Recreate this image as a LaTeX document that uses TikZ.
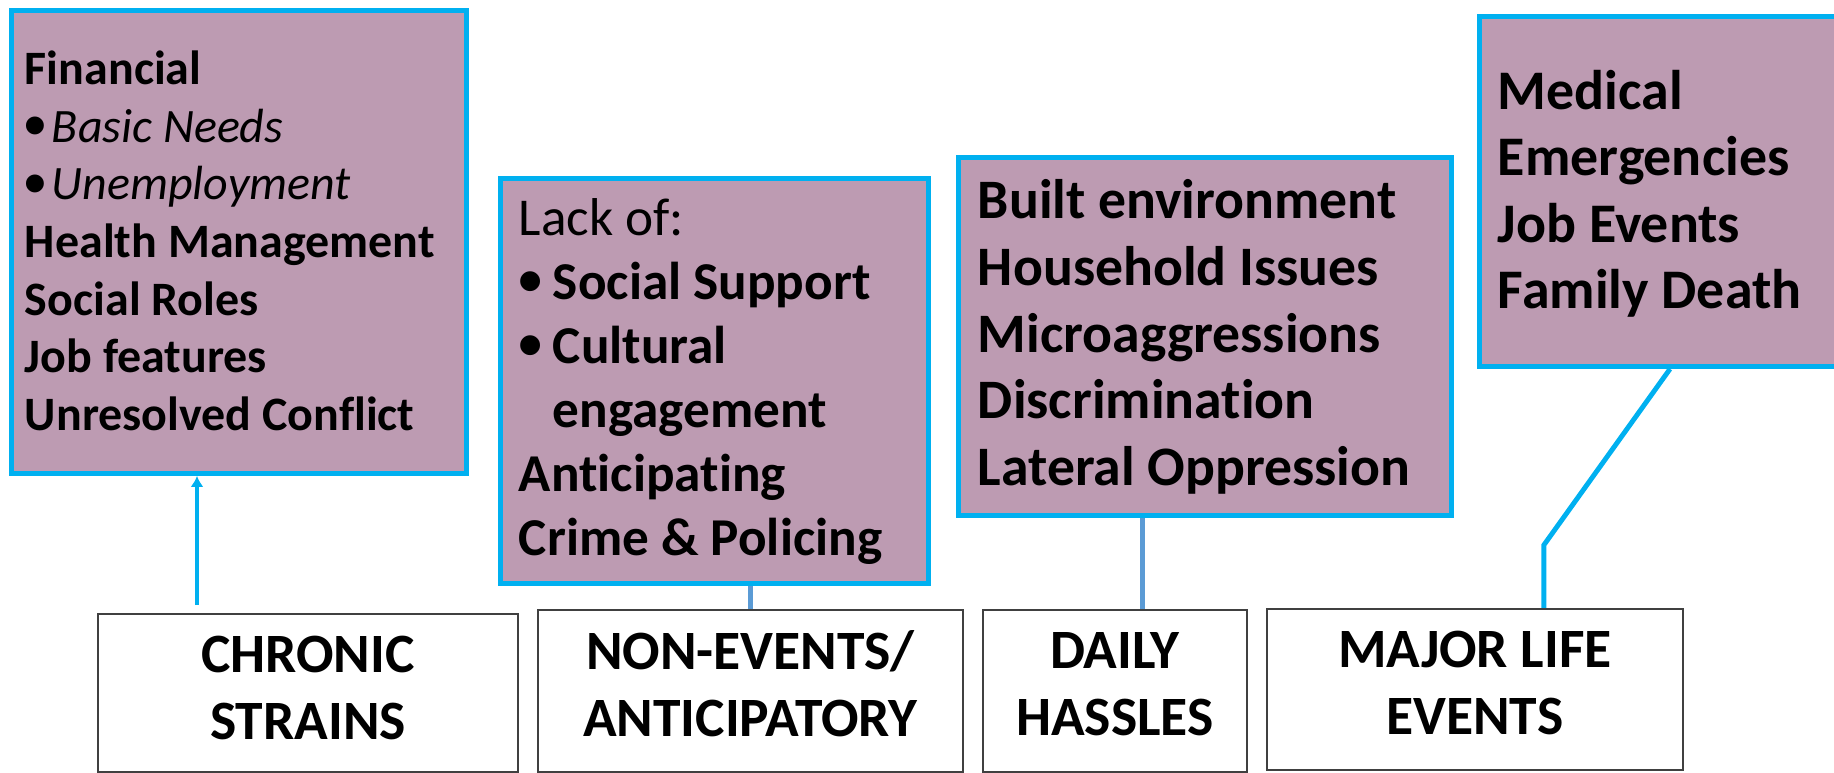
\documentclass[tikz,border=0pt]{standalone}
\usepackage{fontspec}
\setmainfont{Carlito}[Ligatures=NoCommon]
\newfontfamily\dotfont{Liberation Sans}
\usetikzlibrary{positioning}
\usetikzlibrary{arrows.meta}
\usetikzlibrary{calc}
\usetikzlibrary{backgrounds}
\definecolor{skyline}{RGB}{0,176,240}
\definecolor{steelline}{RGB}{91,155,213}
\definecolor{mauve}{RGB}{189,155,178}
\tikzstyle{wire} = [draw, line width=1.4pt, skyline]
\tikzstyle{wire2} = [draw, line width=1.4pt, steelline]
\newcommand{\dotitem}[1]{\makebox[#1][l]{\raisebox{-0.09em}{\scalebox{1.3}{\dotfont\bfseries\textbullet}}}}

\begin{document}
\begin{tikzpicture}[x=0.1mm, y=-0.1mm,
        stress/.style={draw=skyline, line width=1.4pt, fill=mauve,
            anchor=north west, inner ysep=0pt},
        kind/.style={draw=black!75, line width=0.5pt, fill=white,
            anchor=north west, inner sep=0pt,
            font=\fontsize{15.8}{19}\selectfont\bfseries}]
        \useasboundingbox (0,0) rectangle (1834,773);
        \clip (0,0) rectangle (1834,773);
        %% Stressor lists
        \node [stress, inner xsep=1.35mm, text height=7.4mm, text depth=38.9mm,
            font=\fontsize{13.65}{16.4}\selectfont\bfseries] at (9,8) (finance)
            {\parbox[t]{42.8mm}{\raggedright Financial\\
            \dotitem{2.7mm}{\mdseries\itshape Basic~Needs}\\
            \dotitem{2.7mm}{\mdseries\itshape Unemployment}\\
            Health~Management\\
            Social~Roles\\
            Job~features\\
            Unresolved~Conflict}};
        \node [stress, inner xsep=1.85mm, text height=5.7mm, text depth=34.8mm,
            font=\fontsize{15.15}{18.2}\selectfont] at (498,176) (lackof)
            {\parbox[t]{39.1mm}{\raggedright Lack~of:\\ \bfseries
            \dotitem{3.4mm}Social~Support\\
            \dotitem{3.4mm}Cultural\\
            \hspace*{3.4mm}engagement\\
            Anticipating\\
            Crime~\&~Policing}};
        \node [stress, inner xsep=1.95mm, text height=6.1mm, text depth=29.7mm,
            font=\fontsize{15.85}{19}\selectfont\bfseries] at (956,155) (hassle)
            {\parbox[t]{45.4mm}{\raggedright Built~environment\\
            Household~Issues\\
            Microaggressions\\
            Discrimination\\
            Lateral~Oppression}};
        \node [stress, inner xsep=1.85mm, text height=9.3mm, text depth=25.7mm,
            font=\fontsize{15.9}{18.9}\selectfont\bfseries] at (1477,14) (medical)
            {\parbox[t]{38.6mm}{\raggedright Medical\\
            Emergencies\\
            Job~Events\\
            Family~Death}};
        %% Stressor kinds
        \node [kind, text height=5.9mm, text depth=9.9mm] at (97,613) (chronic)
            {\parbox[t]{42mm}{\centering CHRONIC\\STRAINS}};
        \node [kind, text height=6mm, text depth=10.2mm] at (537,609) (nonevents)
            {\parbox[t]{42.5mm}{\centering NON-EVENTS/\\ANTICIPATORY}};
        \node [kind, text height=5.9mm, text depth=10.3mm] at (982,609) (daily)
            {\parbox[t]{26.4mm}{\centering DAILY\\HASSLES}};
        \node [kind, text height=5.9mm, text depth=10.2mm] at (1266,608) (major)
            {\parbox[t]{41.6mm}{\centering MAJOR~LIFE\\EVENTS}};
        %% Links
        \coordinate (c1) at ($(chronic.north west)+(100,-8)$);
        \coordinate (c3) at ($(daily.north)+(28,0)$);
        \coordinate (c4) at ($(major.north)+(69,0)$);
        \coordinate (c4b) at ($(medical.south west)+(193,0)$);
        \path [wire, -{Latex[length=1.1mm,width=1.3mm]}] (c1) -- (c1 |- finance.south);
        \begin{scope}[on background layer]
            \path [wire2] (nonevents.north) -- (nonevents.north |- lackof.south);
            \path [wire2] (c3) -- (c3 |- hassle.south);
            \path [wire] (c4) -- ++(0,-63) -- (c4b);
        \end{scope}
    \end{tikzpicture}
\end{document}
